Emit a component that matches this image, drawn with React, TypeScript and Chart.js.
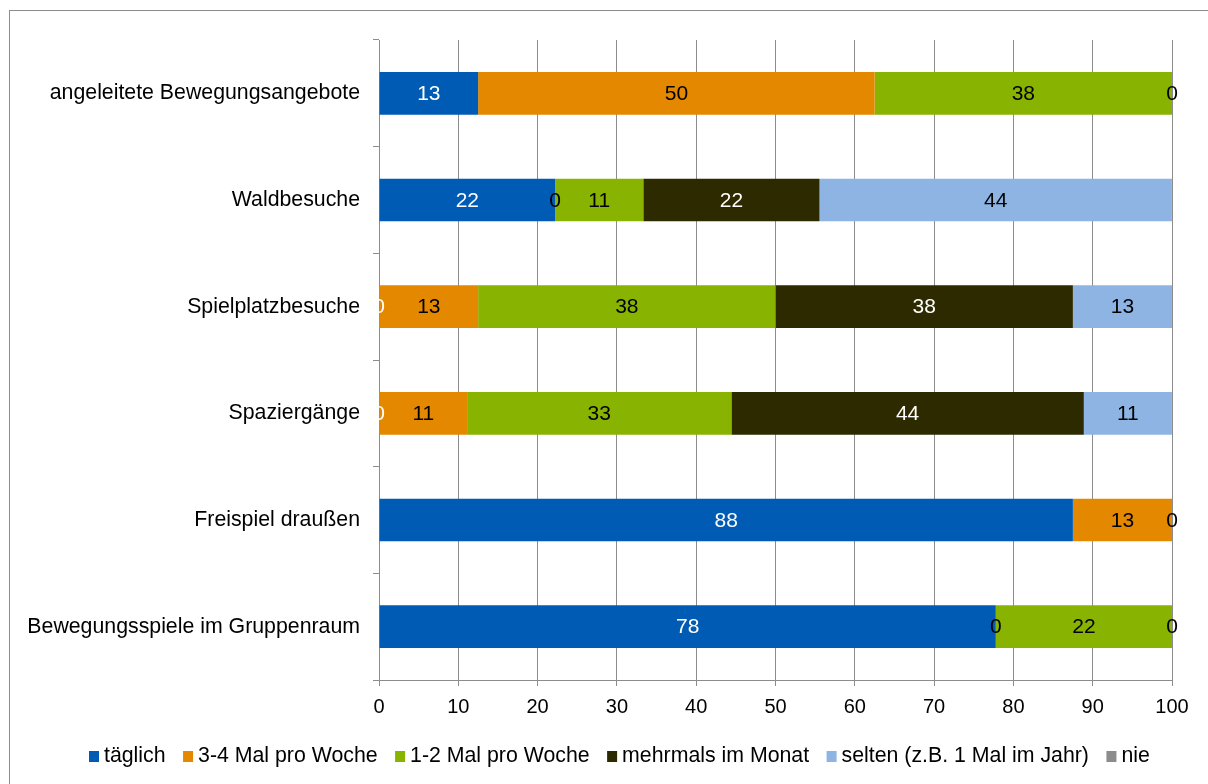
import React, { useEffect, useRef } from "react";
import { Chart, registerables } from "chart.js";

Chart.register(...registerables);

// ---------- data ----------
const categories = [
  "angeleitete Bewegungsangebote",
  "Waldbesuche",
  "Spielplatzbesuche",
  "Spaziergänge",
  "Freispiel draußen",
  "Bewegungsspiele im Gruppenraum",
];

const seriesNames = [
  "täglich",
  "3-4 Mal pro Woche",
  "1-2 Mal pro Woche",
  "mehrmals im Monat",
  "selten (z.B. 1 Mal im Jahr)",
  "nie",
];

const taeglich = [12.5, 22.22, 0, 0, 87.5, 77.78];
const dreiVierMal = [50, 0, 12.5, 11.11, 12.5, 0];
const einZweiMal = [37.5, 11.11, 37.5, 33.33, null, 22.22];
const mehrmalsMonat = [null, 22.22, 37.5, 44.44, null, null];
const selten = [null, 44.44, 12.5, 11.11, null, null];
const nie = [0, null, null, null, 0, 0];

const xTickValues = [0, 10, 20, 30, 40, 50, 60, 70, 80, 90, 100];

const seriesColors = ["#005BB5", "#E48800", "#88B300", "#2D2A00", "#8DB4E2", "#8C8C8C"];
const labelColors = ["#FFFFFF", "#000000", "#000000", "#FFFFFF", "#000000", "#000000"];

const FONT = "'Liberation Sans', Arial, sans-serif";
const AXIS_GRAY = "#8c8c8c";

const valueLabels = {
  id: "valueLabels",
  afterDatasetsDraw(chart: any) {
    const ctx = chart.ctx;
    ctx.save();
    ctx.font = `21px ${FONT}`;
    ctx.textAlign = "center";
    ctx.textBaseline = "middle";
    chart.data.datasets.forEach((ds: any, i: number) => {
      const meta = chart.getDatasetMeta(i);
      meta.data.forEach((el: any, j: number) => {
        const v = ds.data[j];
        if (v === null || v === undefined) return;
        const p = el.getProps(["x", "y", "base"], true);
        ctx.fillStyle = labelColors[i];
        ctx.fillText(String(Math.round(v)), (p.x + p.base) / 2, p.y + 1);
      });
    });
    ctx.restore();
  },
};

const customLegend = {
  id: "customLegend",
  afterDraw(chart: any) {
    const ctx = chart.ctx;
    ctx.save();
    ctx.font = `21.3px ${FONT}`;
    ctx.textBaseline = "middle";
    ctx.textAlign = "left";
    let x = 79;
    const y = 745;
    chart.data.datasets.forEach((ds: any) => {
      ctx.fillStyle = ds.backgroundColor;
      ctx.fillRect(x, y - 5, 10, 11);
      x += 10 + 5;
      ctx.fillStyle = "#000";
      ctx.fillText(ds.label, x, y);
      x += ctx.measureText(ds.label).width + 17.5;
    });
    ctx.restore();
  },
};

export default function App() {
  const canvasRef = useRef<HTMLCanvasElement | null>(null);

  useEffect(() => {
    if (!canvasRef.current) return;
    const seriesData = [taeglich, dreiVierMal, einZweiMal, mehrmalsMonat, selten, nie];
    const chart = new Chart(canvasRef.current, {
      type: "bar",
      data: {
        labels: categories,
        datasets: seriesNames.map((name, i) => ({
          label: name,
          data: seriesData[i] as any,
          backgroundColor: seriesColors[i],
          borderWidth: 0,
          inflateAmount: 0,
          barPercentage: 0.4,
          categoryPercentage: 1,
        })),
      },
      options: {
        indexAxis: "y",
        responsive: false,
        animation: false,
        layout: { padding: { top: 29, right: 36, bottom: 0, left: 0 } },
        plugins: {
          legend: { display: false },
          tooltip: { enabled: false },
        },
        scales: {
          x: {
            stacked: true,
            min: 0,
            max: 100,
            afterBuildTicks: (scale: any) => {
              scale.ticks = xTickValues.map((v) => ({ value: v }));
            },
            afterFit: (scale: any) => {
              scale.height = 104;
            },
            grid: {
              color: AXIS_GRAY,
              lineWidth: 1,
              drawOnChartArea: true,
              drawTicks: true,
              tickLength: 6,
            },
            border: { display: true, color: AXIS_GRAY, width: 1 },
            ticks: {
              color: "#000",
              font: { family: FONT, size: 20 },
              padding: 9,
              maxRotation: 0,
              autoSkip: false,
            },
          },
          y: {
            stacked: true,
            afterFit: (scale: any) => {
              scale.width = 369;
            },
            grid: {
              offset: true,
              drawOnChartArea: false,
              drawTicks: true,
              tickLength: 6,
              color: AXIS_GRAY,
            },
            border: { display: true, color: AXIS_GRAY, width: 1 },
            ticks: {
              color: "#000",
              font: { family: FONT, size: 21.3 },
              padding: 13,
              autoSkip: false,
            },
          },
        },
      },
      plugins: [valueLabels, customLegend],
    });
    return () => chart.destroy();
  }, []);

  return (
    <div style={{ position: "fixed", inset: 0, overflow: "hidden", background: "#fff" }}>
      <div
        style={{
          position: "absolute",
          left: 9,
          top: 10,
          width: 1260,
          height: 820,
          border: `1px solid ${AXIS_GRAY}`,
          boxSizing: "border-box",
        }}
      >
        <canvas
          ref={canvasRef}
          width={1198}
          height={773}
          style={{ position: "absolute", left: 0, top: 0, width: 1198, height: 773 }}
        />
      </div>
    </div>
  );
}
